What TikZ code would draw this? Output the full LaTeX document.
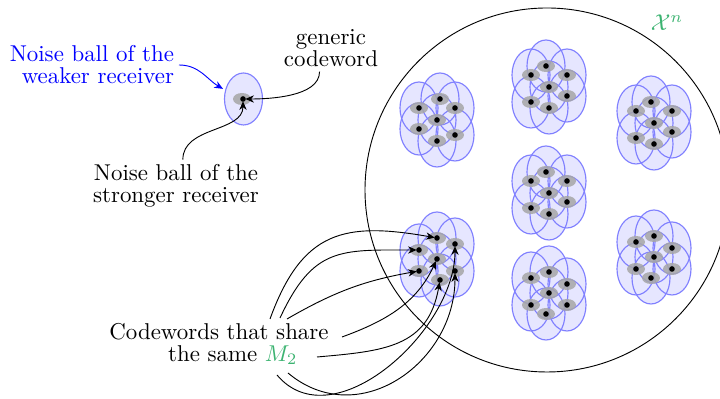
\documentclass[tikz,border=0pt]{standalone}
\usepackage{amsmath,amssymb}
\usepackage{xcolor}
\usepackage{tikz}
\usetikzlibrary{arrows.meta,positioning,calc}
\definecolor{seagreen}{HTML}{3CB371}
\definecolor{ballfill}{HTML}{E6E6FF}
\definecolor{balledge}{HTML}{8080FF}
\tikzset{
  noiseball/.style={fill=ballfill},
  ballrim/.style={draw=balledge,line width=0.5pt},
  innerball/.style={fill=black!35,fill opacity=0.85},
  cword/.style={fill=black},
  lbl/.style={align=center,inner sep=2pt,font=\fontsize{10}{9.6}\selectfont},
  link/.style={->,shorten >=1pt},
}

\begin{document}
\begin{tikzpicture}[x=0.01535cm,y=0.01535cm,>={Stealth[length=3.8pt,width=3.2pt]}]
  \useasboundingbox (0,0) rectangle (720,399);
  \draw (547,209) circle (182);
  \foreach \k/\cx/\cy/\sx/\sy in {1/437/279/-1/1,2/549/312/1/1,3/654/276/1/1,4/549/206/1/1,
                                  5/437/140/-1/-1,6/549/106/1/-1,7/654/142/1/-1} {
    \foreach \j/\dx/\dy in {1/-3/21,2/-18/12,3/18/12,4/0/0,5/18/-9,6/-18/-15,7/0/-21}
      \coordinate (c\k-\j) at ({\cx+(\sx)*(\dx)},{\cy+(\sy)*(\dy)});
  }
  \coordinate (g0) at (243,300);
  \coordinate (wb) at (225,309);

  % balls of the weaker receiver
  \fill[noiseball] (243.5,300) ellipse (19 and 26);
  \foreach \k in {1,...,7}
    \foreach \j in {1,...,7}
      \fill[noiseball] (c\k-\j) ellipse (19 and 26);
  \draw[ballrim] (243.5,300) ellipse (19 and 26);
  \foreach \k in {1,...,7}
    \foreach \j in {1,...,7}
      \draw[ballrim] (c\k-\j) ellipse (19 and 26);

  % balls of the stronger receiver and codewords
  \fill[innerball] (242,300) ellipse (9 and 6);
  \fill[cword] (g0) circle (2.8);
  \foreach \k in {1,...,7}
    \foreach \j in {1,...,7} {
      \fill[innerball] (c\k-\j) ellipse (9 and 6);
      \fill[cword] (c\k-\j) circle (2.8);
    }

  \node[text=seagreen] (xn) at (667,376) {$\mathcal{X}^n$};
  \node[lbl,text=blue,align=right,anchor=east] (weak) at (179,334) {Noise ball of the\\weaker receiver};
  \node[lbl] (gen) at (331,351) {generic\\codeword};
  \node[lbl] (strong) at (176,213) {Noise ball of the\\stronger receiver};
  \node[lbl] (cw) at (219,55) {Codewords that share\\\hspace*{1.2em}the same \textcolor{seagreen}{$M_2$}};

  \draw[link,blue] (weak.east) to[out=0,in=150] (wb);
  \draw[link] ([xshift=-5pt]gen.south) to[out=-90,in=0,looseness=0.8] (g0);
  \draw[link] ([xshift=3pt]strong.north) to[out=90,in=-90] (g0);

  \coordinate (s1) at (270,80);
  \coordinate (s2) at (280,81);
  \coordinate (s3) at (287,80);
  \coordinate (s4) at (342,62);
  \coordinate (s5) at (317,42);
  \coordinate (s6) at (288,26);
  \coordinate (s7) at (277,24);
  \draw[link] (s1) to[out=70,in=170,looseness=1.3] (c5-7);
  \draw[link] (s2) to[out=65,in=180,looseness=1.3] (c5-5);
  \draw[link] (s3) to[out=30,in=190] (c5-3);
  \draw[link] (s4) to[out=20,in=-115] (c5-4);
  \draw[link] (s5) to[out=5,in=-100,looseness=1.2] (c5-1);
  \draw[link] (s6) to[out=-40,in=-90,looseness=1.2] (c5-2);
  \draw[link] (s7) to[out=-50,in=-90] (c5-6);
\end{tikzpicture}
\end{document}
